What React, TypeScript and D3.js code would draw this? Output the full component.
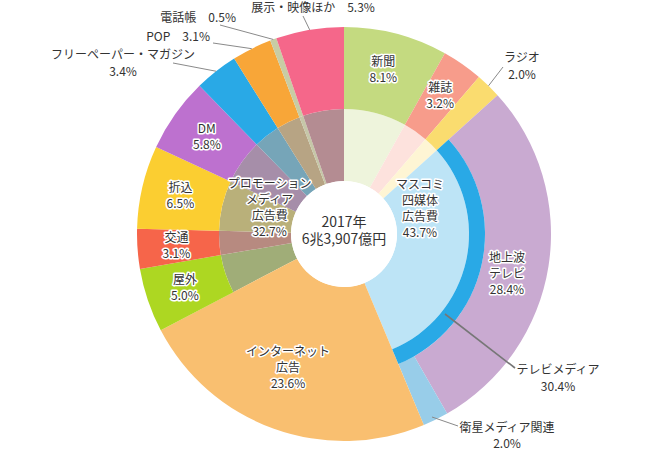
import * as d3 from "d3";

// 2017 advertising expenditure by medium (share %, total 6兆3,907億円)
const categories = [
  "新聞", "雑誌", "ラジオ", "地上波テレビ", "衛星メディア関連", "インターネット広告",
  "屋外", "交通", "折込", "DM", "フリーペーパー・マガジン", "POP", "電話帳", "展示・映像ほか",
];
const shares = [8.1, 3.2, 2.0, 28.4, 2.0, 23.6, 5.0, 3.1, 6.5, 5.8, 3.4, 3.1, 0.5, 5.3];

// inner ring: TV terrestrial + satellite merged into テレビメディア
const innerCategories = [
  "新聞", "雑誌", "ラジオ", "テレビメディア", "インターネット広告",
  "屋外", "交通", "折込", "DM", "フリーペーパー・マガジン", "POP", "電話帳", "展示・映像ほか",
];
const innerShares = [8.1, 3.2, 2.0, 30.4, 23.6, 5.0, 3.1, 6.5, 5.8, 3.4, 3.1, 0.5, 5.3];

const groupNames = ["マスコミ四媒体広告費", "インターネット広告費", "プロモーションメディア広告費"];
const groupShares = [43.7, 23.6, 32.7];

const totalLines = ["2017年", "6兆3,907億円"];

const outerColors = [
  "#c4da80", "#f79c8b", "#fadc6f", "#c9aad1", "#98cde9", "#f9bf70",
  "#add722", "#f6654a", "#fbce31", "#bd71cf", "#29a9e6", "#f8a638", "#c8cca4", "#f5678a",
];
const innerColors = [
  "#eef4dc", "#fde2dd", "#fef5d4", "#bde4f6", "#f9bf70",
  "#a0ad78", "#b78a80", "#b9b07a", "#a68ea9", "#76a5b8", "#b7a484", "#c6c7a8", "#b48c92",
];
const tvBandColor = "#29a9e6";

const W = 670, H = 454;
const cx = 344, cy = 234;
const rHole = 53, rInner = 125, rBand = 141, rOuter = 207;
const font = "'Noto Sans CJK JP', 'Noto Sans', sans-serif";
const ink = "#333";

// labels drawn inside the outer ring (by category index)
const insideLabels: { i: number; lines: string[]; shift?: [number, number] }[] = [
  { i: 0, lines: ["新聞", "8.1%"], shift: [-3, -2] },
  { i: 1, lines: ["雑誌", "3.2%"] },
  { i: 3, lines: ["地上波", "テレビ", "28.4%"], shift: [-3, 14] },
  { i: 6, lines: ["屋外", "5.0%"] },
  { i: 7, lines: ["交通", "3.1%"] },
  { i: 8, lines: ["折込", "6.5%"] },
  { i: 9, lines: ["DM", "5.8%"] },
];

// callouts with leader lines: from ring edge to an elbow point, then text
const callouts: {
  i: number; from?: [number, number]; to: [number, number];
  lines: { t: string; x: number; y: number; anchor: string }[]; width?: number;
}[] = [
  { i: 2, to: [503, 67], lines: [{ t: "ラジオ", x: 522, y: 58, anchor: "middle" }, { t: "2.0%", x: 522, y: 75, anchor: "middle" }] },
  { i: 3, from: [445, 314], to: [515, 368], width: 1.6,
    lines: [{ t: "テレビメディア", x: 558, y: 370, anchor: "middle" }, { t: "30.4%", x: 558, y: 387, anchor: "middle" }] },
  { i: 4, from: [432, 417], to: [458, 426], lines: [{ t: "衛星メディア関連", x: 507, y: 428, anchor: "middle" }, { t: "2.0%", x: 507, y: 444, anchor: "middle" }] },
  { i: 10, to: [173, 63], lines: [{ t: "フリーペーパー・マガジン", x: 123, y: 55, anchor: "middle" }, { t: "3.4%", x: 123, y: 72, anchor: "middle" }] },
  { i: 11, to: [213, 43], lines: [{ t: "POP　3.1%", x: 210, y: 37, anchor: "end" }] },
  { i: 12, to: [220, 25], lines: [{ t: "電話帳　0.5%", x: 236, y: 18, anchor: "end" }] },
  { i: 13, to: [303, 16], lines: [{ t: "展示・映像ほか　5.3%", x: 313, y: 8, anchor: "middle" }] },
];

const pie = d3.pie<number>().sort(null).value((d) => d).startAngle(0).endAngle(2 * Math.PI);
const outerArcs = pie(shares);
const innerArcs = pie(innerShares);
const groupArcs = pie(groupShares);

const tvOuter = new Set([3, 4]);
const netOuter = 5, netInner = 4;
const arc = d3.arc<any>();

const polar = (a: number, r: number): [number, number] => [Math.sin(a) * r, -Math.cos(a) * r];

function Label({ x, y, lines, size = 12, halo = true, anchor = "middle", lh = 16 }: any) {
  const y0 = y - ((lines.length - 1) * lh) / 2;
  return (
    <g>
      {lines.map((t: string, k: number) => (
        <text
          key={k}
          x={x}
          y={y0 + k * lh}
          dy="0.35em"
          textAnchor={anchor}
          fontFamily={font}
          fontSize={size}
          fill={ink}
          stroke={halo ? "#fff" : "none"}
          strokeWidth={halo ? 3 : 0}
          strokeLinejoin="round"
          paintOrder="stroke"
        >
          {t}
        </text>
      ))}
    </g>
  );
}

export default function App() {
  const tvArc = innerArcs[3];
  return (
    <svg width={W} height={H} style={{ position: "absolute", left: 0, top: 0 }}>
      <rect width={W} height={H} fill="#fff" />
      <g transform={`translate(${cx},${cy})`}>
        {innerArcs.map((a, i) =>
          i === netInner ? null : (
            <path key={"in" + i} d={arc({ ...a, innerRadius: rHole, outerRadius: rInner })!} fill={innerColors[i]} />
          )
        )}
        {outerArcs.map((a, i) => (
          <path
            key={"out" + i}
            d={arc({
              ...a,
              innerRadius: i === netOuter ? rHole : tvOuter.has(i) ? rBand : rInner,
              outerRadius: rOuter,
            })!}
            fill={outerColors[i]}
          />
        ))}
        <path d={arc({ ...tvArc, innerRadius: rInner, outerRadius: rBand })!} fill={tvBandColor} />
        <circle r={rHole} fill="#fff" />
      </g>

      {/* leader lines */}
      {callouts.map((c, k) => {
        const a = outerArcs[c.i];
        const mid = (a.startAngle + a.endAngle) / 2;
        const [px, py] = polar(mid, rOuter);
        const from = c.from ?? [cx + px, cy + py];
        return (
          <line key={"l" + k} x1={from[0]} y1={from[1]} x2={c.to[0]} y2={c.to[1]}
            stroke={c.width ? "#777" : "#8a8a8a"} strokeWidth={c.width ?? 1} />
        );
      })}
      {callouts.map((c, k) => (
        <g key={"t" + k}>
          {c.lines.map((l, j) => (
            <Label key={j} x={l.x} y={l.y} lines={[l.t]} anchor={l.anchor} halo={false} />
          ))}
        </g>
      ))}

      {/* labels inside the outer ring */}
      {insideLabels.map((L, k) => {
        const a = outerArcs[L.i];
        const mid = (a.startAngle + a.endAngle) / 2;
        const [px, py] = polar(mid, 168);
        const s = L.shift ?? [0, 0];
        return <Label key={"il" + k} x={cx + px + s[0]} y={cy + py + s[1]} lines={L.lines} />;
      })}

      {/* internet label spans both rings */}
      {(() => {
        const a = groupArcs[1];
        const [px, py] = polar((a.startAngle + a.endAngle) / 2 + 0.05, 145);
        return <Label x={cx + px} y={cy + py} lines={["インターネット", "広告", groupShares[1].toFixed(1) + "%"]} />;
      })()}

      {/* group labels in inner pie */}
      {(() => {
        const m = groupArcs[0];
        const p = groupArcs[2];
        const [mx, my] = polar(1.253, 80);
        const [qx, qy] = polar(5.057, 79);
        return (
          <>
            <Label x={cx + mx} y={cy + my} lines={["マスコミ", "四媒体", "広告費", m.data.toFixed(1) + "%"]} />
            <Label x={cx + qx} y={cy + qy} lines={["プロモーション", "メディア", "広告費", p.data.toFixed(1) + "%"]} />
          </>
        );
      })()}

      <Label x={cx} y={cy - 3} lines={totalLines} size={14} halo={false} lh={17} />
    </svg>
  );
}
